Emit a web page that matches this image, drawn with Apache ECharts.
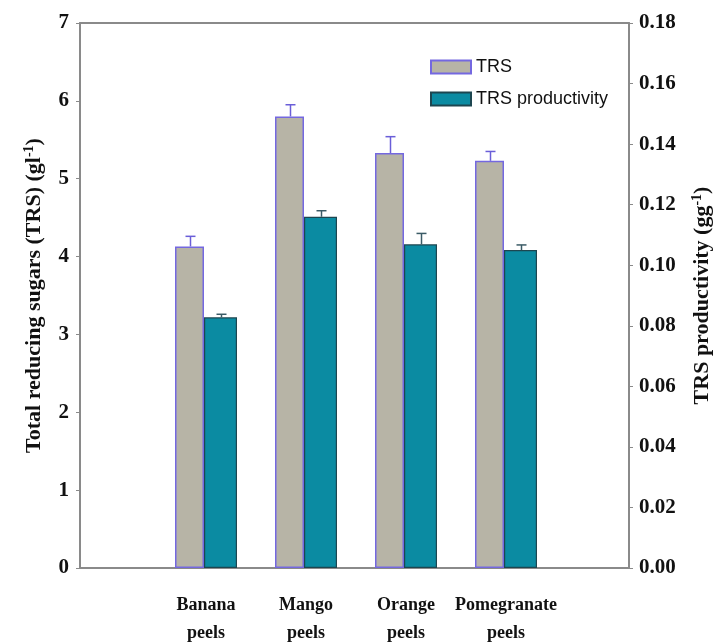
<!DOCTYPE html>
<html><head><meta charset="utf-8">
<script src="https://cdn.jsdelivr.net/npm/echarts@6/dist/echarts.min.js"></script>
<style>html,body{margin:0;padding:0;background:#fff}#c{width:714px;height:643px}</style>
</head><body><div id="c"></div>
<script>
const categories = ['Banana\npeels', 'Mango\npeels', 'Orange\npeels', 'Pomegranate\npeels'];
const trs = [4.13, 5.80, 5.33, 5.23];
const trsErr = [0.13, 0.15, 0.21, 0.12];
const productivity = [0.0828, 0.116, 0.1069, 0.105];
const productivityErr = [0.001, 0.002, 0.0036, 0.0017];
const leftTicks = [0, 1, 2, 3, 4, 5, 6, 7];
const rightTicks = [0, 0.02, 0.04, 0.06, 0.08, 0.10, 0.12, 0.14, 0.16, 0.18];

const serif = '"Liberation Serif", "DejaVu Serif", serif';
const sans = '"Liberation Sans", Arial, sans-serif';
const axisGray = '#8a8a8a';

function errRender(sign, color) {
  return function (params, api) {
    const idx = api.value(0), v = api.value(1), e = api.value(2);
    const bw = api.size([1, 0])[0];
    const dx = sign * bw * 0.155;
    const p0 = api.coord([idx, v]);
    const p1 = api.coord([idx, v + e]);
    const x = p0[0] + dx;
    return {
      type: 'group',
      children: [
        {type: 'line', shape: {x1: x, y1: p0[1], x2: x, y2: p1[1]}, style: {stroke: color, lineWidth: 1.5}},
        {type: 'line', shape: {x1: x - 5, y1: p1[1], x2: x + 5, y2: p1[1]}, style: {stroke: color, lineWidth: 1.5}}
      ]
    };
  };
}

const chart = echarts.init(document.getElementById('c'));
chart.setOption({
  animation: false,
  backgroundColor: '#fff',
  legend: {
    left: 425, top: 53, orient: 'vertical', itemWidth: 40, itemHeight: 13, itemGap: 14, icon: 'rect',
    textStyle: {fontFamily: sans, fontSize: 18, color: '#111'},
    data: ['TRS', 'TRS productivity']
  },
  grid: [
    {left: 80, right: 85, top: 23, bottom: 75, outerBoundsMode: 'none', containLabel: false},
    {left: 156, right: 158, top: 23, bottom: 75, outerBoundsMode: 'none', containLabel: false}
  ],
  xAxis: [
    {type: 'value', gridIndex: 0, min: 0, max: 1, position: 'bottom',
      axisLine: {show: true, onZero: false, lineStyle: {color: axisGray, width: 2}},
      axisTick: {show: false}, axisLabel: {show: false}, splitLine: {show: false}},
    {type: 'value', gridIndex: 0, min: 0, max: 1, position: 'top',
      axisLine: {show: true, onZero: false, lineStyle: {color: axisGray, width: 2}},
      axisTick: {show: false}, axisLabel: {show: false}, splitLine: {show: false}},
    {type: 'category', gridIndex: 1, data: categories,
      axisLine: {show: false}, axisTick: {show: false}, splitLine: {show: false},
      axisLabel: {interval: 0, margin: 23, fontFamily: serif, fontWeight: 'bold', fontSize: 18, lineHeight: 28, color: '#111'}}
  ],
  yAxis: [
    {type: 'value', gridIndex: 0, position: 'left', min: leftTicks[0], max: leftTicks[leftTicks.length - 1], interval: 1,
      axisLine: {show: true, onZero: false, lineStyle: {color: axisGray, width: 2}},
      axisTick: {show: true, inside: false, length: 4, lineStyle: {color: axisGray}},
      splitLine: {show: false},
      axisLabel: {margin: 11, fontFamily: serif, fontWeight: 'bold', fontSize: 21, color: '#111'},
      name: '{t|Total reducing sugars (TRS) (gl}{s|-1}{t|)}', nameLocation: 'middle', nameGap: 34, nameRotate: 90,
      nameTextStyle: {rich: {
        t: {fontFamily: serif, fontWeight: 'bold', fontSize: 22, color: '#111'},
        s: {fontFamily: serif, fontWeight: 'bold', fontSize: 14, color: '#111', verticalAlign: 'top', padding: [0, 0, 10, 0]}
      }}},
    {type: 'value', gridIndex: 0, position: 'right', min: rightTicks[0], max: rightTicks[rightTicks.length - 1], interval: 0.02,
      axisLine: {show: true, onZero: false, lineStyle: {color: axisGray, width: 2}},
      axisTick: {show: true, inside: false, length: 4, lineStyle: {color: axisGray}},
      splitLine: {show: false},
      axisLabel: {margin: 10, fontFamily: serif, fontWeight: 'bold', fontSize: 21, color: '#111',
        formatter: v => v.toFixed(2)},
      name: '{t|TRS productivity (gg}{s|-1}{t|)}', nameLocation: 'middle', nameGap: 61, nameRotate: 90,
      nameTextStyle: {rich: {
        t: {fontFamily: serif, fontWeight: 'bold', fontSize: 22, color: '#111'},
        s: {fontFamily: serif, fontWeight: 'bold', fontSize: 14, color: '#111', verticalAlign: 'top', padding: [0, 0, 10, 0]}
      }}},
    {type: 'value', gridIndex: 1, min: 0, max: 7, show: false, splitLine: {show: false}},
    {type: 'value', gridIndex: 1, min: 0, max: 0.18, show: false, splitLine: {show: false}}
  ],
  series: [
    {name: 'TRS', type: 'bar', xAxisIndex: 2, yAxisIndex: 2, data: trs, barWidth: '29%', barGap: '0%',
      itemStyle: {color: '#b7b4a6', borderColor: '#7468e0', borderWidth: 1.5}},
    {name: 'TRS productivity', type: 'bar', xAxisIndex: 2, yAxisIndex: 3, data: productivity, barWidth: '33%', barGap: '0%',
      itemStyle: {color: '#0b8ba2', borderColor: '#1d4650', borderWidth: 1.2}},
    {type: 'custom', xAxisIndex: 2, yAxisIndex: 2, z: 5, silent: true,
      data: trs.map((v, i) => [i, v, trsErr[i]]),
      renderItem: errRender(-1, '#6a5ed8')},
    {type: 'custom', xAxisIndex: 2, yAxisIndex: 3, z: 5, silent: true,
      data: productivity.map((v, i) => [i, v, productivityErr[i]]),
      renderItem: errRender(1, '#3b5b66')}
  ]
});
</script></body></html>
